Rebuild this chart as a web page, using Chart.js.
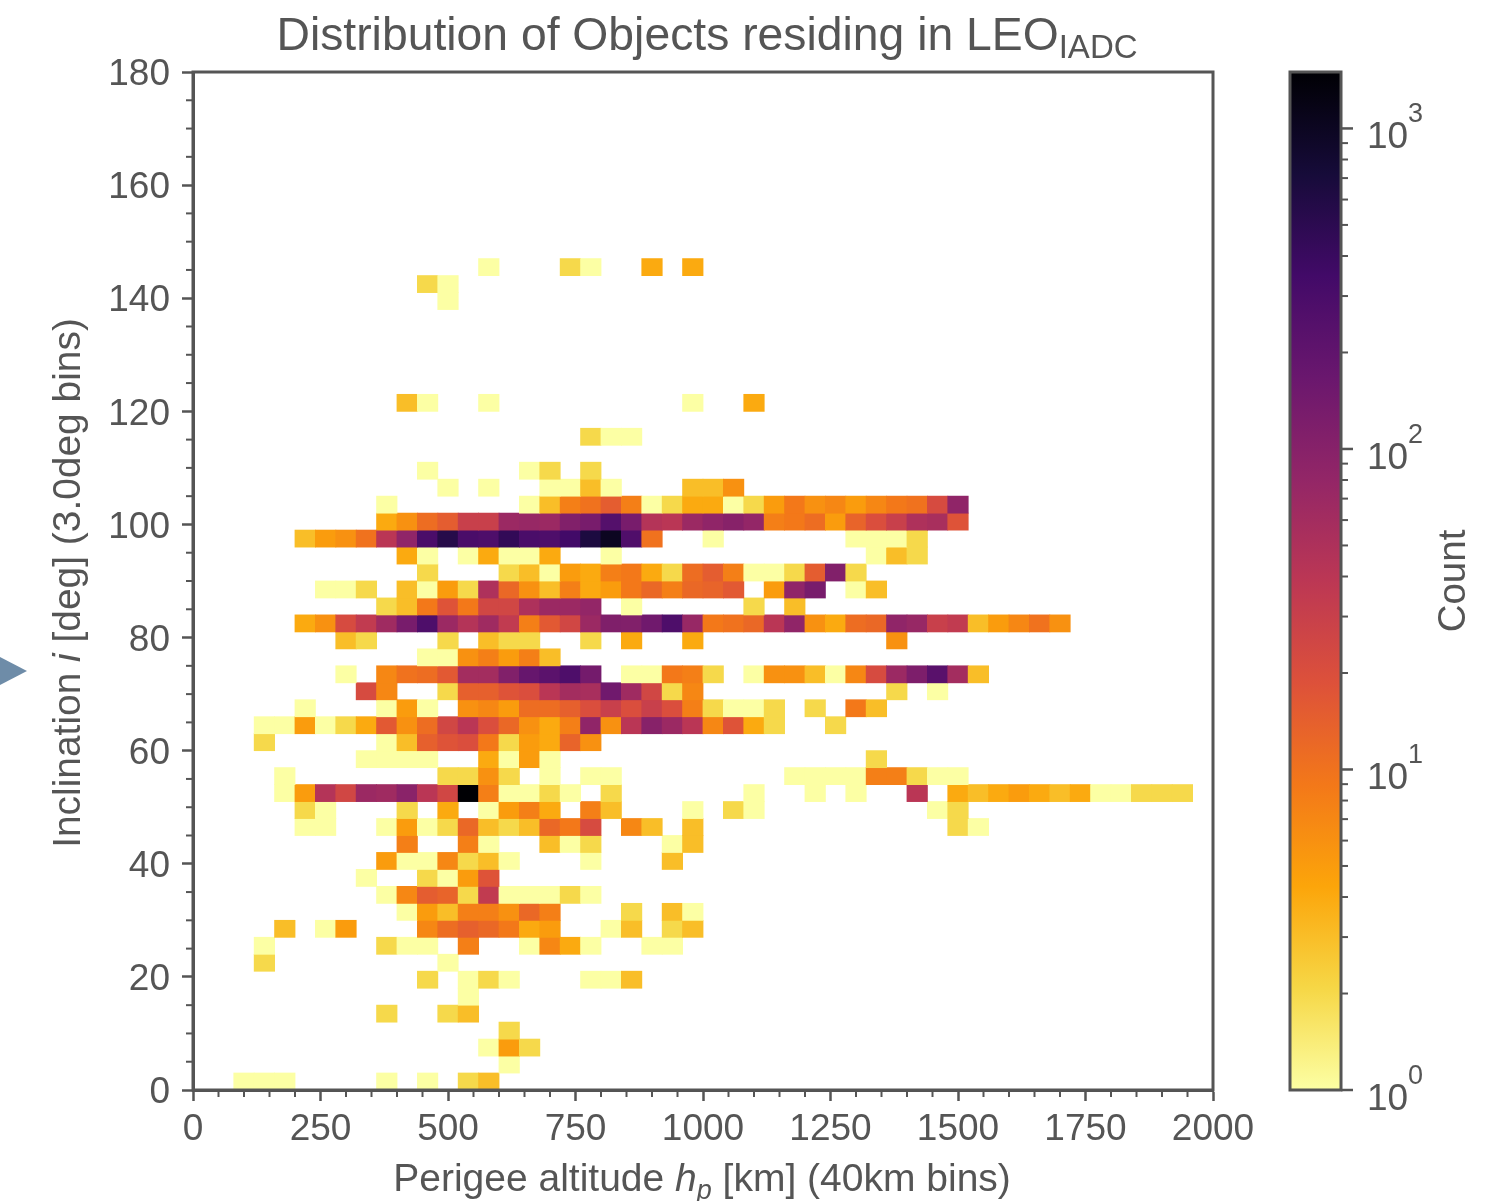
<!DOCTYPE html>
<html>
<head>
<meta charset="utf-8">
<title>Distribution of Objects residing in LEO</title>
<script src="https://cdn.jsdelivr.net/npm/chart.js@4/dist/chart.umd.min.js"></script>
<style>
    html, body { margin: 0; padding: 0; background: #ffffff; overflow: hidden; }
    canvas { position: absolute; top: 0; filter: blur(0.7px); }
    #heatChart { left: 0; }
    #barChart { left: 1270px; }
    #marker {
        position: absolute; left: 0; top: 657px; width: 27px; height: 28px;
        background: #6e8ca8; clip-path: polygon(0 0, 100% 50%, 0 100%);
    }
</style>
</head>
<body>
<canvas id="heatChart" width="1262" height="1201"></canvas>
<canvas id="barChart" width="216" height="1201"></canvas>
<div id="marker"></div>
<script>
// counts per 40km altitude bin, one list per 3deg inclination bin (named by lower edge)
const inc144 = [0,0,0,0,0, 0,0,0,0,0, 0,0,0,0,1, 0,0,0,2,1, 0,0,4,0,4];
const inc141 = [0,0,0,0,0, 0,0,0,0,0, 0,2,1];
const inc138 = [0,0,0,0,0, 0,0,0,0,0, 0,0,1];
const inc120 = [0,0,0,0,0, 0,0,0,0,0, 3,1,0,0,1, 0,0,0,0,0, 0,0,0,0,1, 0,0,4];
const inc114 = [0,0,0,0,0, 0,0,0,0,0, 0,0,0,0,0, 0,0,0,0,2, 1,1];
const inc108 = [0,0,0,0,0, 0,0,0,0,0, 0,1,0,0,0, 0,1,2,0,2];
const inc105 = [0,0,0,0,0, 0,0,0,0,0, 0,0,1,0,1, 0,0,1,1,3, 1,0,0,0,3, 3,6];
const inc102 = [0,0,0,0,0, 0,0,0,0,1, 0,0,0,0,0, 0,1,3,8,10, 15,8,1,2,4, 4,1,2,5,9, 6,7,5,7,9, 10,22,85];
const inc99 = [0,0,0,0,0, 0,0,0,0,4, 6,11,15,30,30, 70,75,70,110,130, 250,130,45,40,70, 85,100,80,8,9, 11,5,13,20,30, 50,55,18];
const inc96 = [0,0,0,0,0, 3,5,6,10,40, 85,300,550,300,280, 450,300,280,350,650, 1000,270,10,0,0, 1,0,0,0,0, 0,0,1,1,1, 2];
const inc93 = [0,0,0,0,0, 0,0,0,0,0, 4,1,0,1,4, 1,1,4,0,0, 1,0,0,0,0, 0,0,0,0,0, 0,0,0,1,3, 2];
const inc90 = [0,0,0,0,0, 0,0,0,0,0, 0,2,0,0,0, 2,3,1,5,4, 8,9,4,2,11, 15,8,1,1,2, 15,110,2];
const inc87 = [0,0,0,0,0, 0,1,1,2,0, 3,1,5,2,50, 12,6,3,8,4, 5,9,12,8,12, 13,16,0,5,85, 130,0,1,3];
const inc84 = [0,0,0,0,0, 0,0,0,0,2, 3,9,18,9,25, 25,50,70,70,80, 0,1,0,0,0, 0,0,2,0,3];
const inc81 = [0,0,0,0,0, 4,6,22,35,65, 130,280,70,45,65, 35,8,16,25,70, 115,110,150,280,75, 9,10,12,40,85, 6,4,11,12,85, 75,30,35,3,5, 7,10,6];
const inc78 = [0,0,0,0,0, 0,0,3,2,0, 0,0,2,0,3, 2,2,0,0,2, 0,4,0,0,4, 0,0,0,0,0, 0,0,0,0,6];
const inc75 = [0,0,0,0,0, 0,0,0,0,0, 0,1,1,6,8, 5,8,3];
const inc72 = [0,0,0,0,0, 0,0,1,0,7, 10,11,16,60,60, 110,180,220,280,140, 0,1,1,9,8, 2,0,1,6,6, 3,1,7,22,70, 120,230,60,3];
const inc69 = [0,0,0,0,0, 0,0,0,22,7, 0,0,2,14,14, 18,20,40,60,55, 150,65,25,2,7, 0,0,0,0,0, 0,0,0,0,2, 0,1];
const inc66 = [0,0,0,0,0, 1,0,0,0,1, 5,1,0,6,7, 5,11,11,14,20, 30,20,30,20,8, 2,1,1,2,0, 2,0,9,3];
const inc63 = [0,0,0,1,1, 5,1,2,4,16, 6,11,25,40,20, 12,6,4,8,85, 6,40,100,70,40, 7,18,4,2,0, 0,2];
const inc60 = [0,0,0,2,0, 0,0,0,0,1, 3,14,18,20,9, 2,5,4,13,6];
const inc57 = [0,0,0,0,0, 0,0,0,1,1, 1,1,0,0,4, 1,5,1,0,0, 0,0,0,0,0, 0,0,0,0,0, 0,0,0,2];
const inc54 = [0,0,0,0,1, 0,0,0,0,0, 0,0,2,2,6, 2,0,1,0,1, 1,0,0,0,0, 0,0,0,0,1, 1,1,1,8,8, 2,1,1];
const inc51 = [0,0,0,0,1, 5,45,25,70,65, 95,40,25,1500,8, 1,1,2,1,0, 2,0,0,0,0, 0,0,1,0,0, 1,0,1,0,0, 40,0,4,3,4, 5,4,3,4,1, 1,2,2,2];
const inc48 = [0,0,0,0,0, 2,1,0,0,0, 2,0,4,0,1, 5,8,4,0,8, 3,0,0,0,1, 0,2,1,0,0, 0,0,0,0,0, 0,1,2];
const inc45 = [0,0,0,0,0, 1,1,0,0,1, 5,1,2,12,3, 2,3,12,9,22, 0,7,3,0,3, 0,0,0,0,0, 0,0,0,0,0, 0,0,2,1];
const inc42 = [0,0,0,0,0, 0,0,0,0,0, 8,0,0,8,1, 0,0,3,1,2, 0,0,0,1,3];
const inc39 = [0,0,0,0,0, 0,0,0,0,5, 1,1,7,2,3, 1,0,0,0,1, 0,0,0,3];
const inc36 = [0,0,0,0,0, 0,0,0,1,0, 0,2,1,5,18];
const inc33 = [0,0,0,0,0, 0,0,0,0,1, 7,15,13,2,35, 1,1,1,2,1];
const inc30 = [0,0,0,0,0, 0,0,0,0,0, 1,5,3,8,8, 6,12,8,0,0, 0,2,0,3,1];
const inc27 = [0,0,0,0,3, 0,1,5,0,0, 0,7,11,14,12, 9,4,5,0,0, 1,3,0,2,3];
const inc24 = [0,0,0,1,0, 0,0,0,0,2, 1,1,0,8,0, 0,1,7,4,1, 0,0,1,1];
const inc21 = [0,0,0,2,0, 0,0,0,0,0, 0,0,1];
const inc18 = [0,0,0,0,0, 0,0,0,0,0, 0,2,0,1,2, 1,0,0,0,1, 1,3];
const inc15 = [0,0,0,0,0, 0,0,0,0,0, 0,0,0,1];
const inc12 = [0,0,0,0,0, 0,0,0,0,2, 0,0,2,3];
const inc9 = [0,0,0,0,0, 0,0,0,0,0, 0,0,0,0,0, 2];
const inc6 = [0,0,0,0,0, 0,0,0,0,0, 0,0,0,0,1, 5,2];
const inc3 = [0,0,0,0,0, 0,0,0,0,0, 0,0,0,0,0, 1];
const inc0 = [0,0,1,1,1, 0,0,0,0,1, 0,1,0,2,3];

const incRows = [
    [144, inc144], [141, inc141], [138, inc138], [120, inc120], [114, inc114], [108, inc108],
    [105, inc105], [102, inc102], [99, inc99], [96, inc96], [93, inc93], [90, inc90],
    [87, inc87], [84, inc84], [81, inc81], [78, inc78], [75, inc75], [72, inc72],
    [69, inc69], [66, inc66], [63, inc63], [60, inc60], [57, inc57], [54, inc54],
    [51, inc51], [48, inc48], [45, inc45], [42, inc42], [39, inc39], [36, inc36],
    [33, inc33], [30, inc30], [27, inc27], [24, inc24], [21, inc21], [18, inc18],
    [15, inc15], [12, inc12], [9, inc9], [6, inc6], [3, inc3], [0, inc0]
];

const altitudeBins = [];
for (let i = 0; i < 50; i++) {
    altitudeBins.push(String(i * 40));
}

const countMax = 1500;
const cbarTicks = [1, 10, 100, 1000];

// inferno colormap, listed from dark to light
const inferno = [
    [0, 0, 4], [22, 11, 57], [66, 10, 104], [106, 23, 110], [147, 38, 103], [188, 55, 84],
    [221, 81, 58], [243, 120, 25], [252, 165, 10], [246, 215, 70], [252, 255, 164]
];

const INK = '#555555';
const SANS = '"Liberation Sans", Arial, sans-serif';
const TICK_FONT = '37px ' + SANS;

function colorAt(t) {
    const pos = Math.min(Math.max(t, 0), 1) * (inferno.length - 1);
    const i = Math.min(Math.floor(pos), inferno.length - 2);
    const f = pos - i;
    const c = inferno[i].map((v, k) => Math.round(v + (inferno[i + 1][k] - v) * f));
    return `rgb(${c[0]}, ${c[1]}, ${c[2]})`;
}

function countColor(count) {
    return colorAt(1 - Math.log10(count) / Math.log10(countMax));
}

// text made of several runs (italic, subscript), centred on x
function drawRuns(ctx, runs, x, y) {
    ctx.textAlign = 'left';
    ctx.textBaseline = 'alphabetic';
    ctx.fillStyle = INK;
    let total = 0;
    runs.forEach(run => {
        ctx.font = run.font;
        total += ctx.measureText(run.text).width;
    });
    let cur = x - total / 2;
    runs.forEach(run => {
        ctx.font = run.font;
        ctx.fillText(run.text, cur, y + (run.dy || 0));
        cur += ctx.measureText(run.text).width;
    });
}

function tickLine(ctx, x1, y1, x2, y2, width) {
    ctx.lineWidth = width;
    ctx.beginPath();
    ctx.moveTo(x1, y1);
    ctx.lineTo(x2, y2);
    ctx.stroke();
}

const heatDecor = {
    id: 'heatDecor',
    afterDraw(chart) {
        const ctx = chart.ctx;
        const area = chart.chartArea;
        const xScale = chart.scales.xTicks;
        const yScale = chart.scales.y;
        ctx.save();
        ctx.strokeStyle = INK;
        ctx.lineWidth = 3;
        ctx.strokeRect(area.left, area.top, area.right - area.left, area.bottom - area.top);
        for (let v = 0; v <= 2000; v += 50) {
            if (v % 250 !== 0) {
                const px = xScale.getPixelForValue(v);
                tickLine(ctx, px, area.bottom, px, area.bottom + 7, 2);
            }
        }
        for (let v = 0; v <= 180; v += 5) {
            if (v % 20 !== 0) {
                const py = yScale.getPixelForValue(v);
                tickLine(ctx, area.left, py, area.left - 7, py, 2);
            }
        }
        drawRuns(ctx, [
            { text: 'Distribution of Objects residing in LEO', font: '46.3px ' + SANS },
            { text: 'IADC', font: '33px ' + SANS, dy: 8 }
        ], 707, 50);
        drawRuns(ctx, [
            { text: 'Perigee altitude ', font: '39px ' + SANS },
            { text: 'h', font: 'italic 39px ' + SANS },
            { text: 'p', font: 'italic 27px ' + SANS, dy: 8 },
            { text: ' [km] (40km bins)', font: '39px ' + SANS }
        ], 702, 1191);
        ctx.translate(80, 583);
        ctx.rotate(-Math.PI / 2);
        drawRuns(ctx, [
            { text: 'Inclination ', font: '38.9px ' + SANS },
            { text: 'i', font: 'italic 38.9px ' + SANS },
            { text: ' [deg] (3.0deg bins)', font: '38.9px ' + SANS }
        ], 0, 0);
        ctx.restore();
    }
};

const cbarDecor = {
    id: 'cbarDecor',
    afterDraw(chart) {
        const ctx = chart.ctx;
        const area = chart.chartArea;
        const yScale = chart.scales.y;
        ctx.save();
        ctx.strokeStyle = INK;
        ctx.lineWidth = 3;
        ctx.strokeRect(area.left, area.top, area.right - area.left, area.bottom - area.top);
        for (let d = 1; d <= 1000; d *= 10) {
            for (let m = 1; m <= 9; m++) {
                const v = d * m;
                if (v <= countMax) {
                    const py = yScale.getPixelForValue(v);
                    if (m === 1) {
                        tickLine(ctx, area.right, py, area.right + 12, py, 2.5);
                    } else {
                        tickLine(ctx, area.right, py, area.right + 7, py, 2);
                    }
                }
            }
        }
        ctx.fillStyle = INK;
        ctx.textAlign = 'left';
        ctx.textBaseline = 'alphabetic';
        cbarTicks.forEach(v => {
            const py = yScale.getPixelForValue(v);
            ctx.font = TICK_FONT;
            ctx.fillText('10', area.right + 26, py + 20);
            ctx.font = '27px ' + SANS;
            ctx.fillText(String(Math.round(Math.log10(v))), area.right + 67, py - 6);
        });
        ctx.translate(195, 581);
        ctx.rotate(-Math.PI / 2);
        drawRuns(ctx, [{ text: 'Count', font: '38.5px ' + SANS }], 0, 0);
        ctx.restore();
    }
};

function rowDataset(row) {
    const lower = row[0];
    const counts = row[1];
    return {
        data: altitudeBins.map((bin, i) => (counts[i] ? [lower, lower + 3] : null)),
        backgroundColor: altitudeBins.map((bin, i) => (counts[i] ? countColor(counts[i]) : 'rgba(0,0,0,0)')),
        borderWidth: 0,
        inflateAmount: 0.4,
        grouped: false,
        barPercentage: 1,
        categoryPercentage: 1,
        xAxisID: 'x',
        yAxisID: 'y'
    };
}

new Chart(document.getElementById('heatChart').getContext('2d'), {
    type: 'bar',
    data: {
        labels: altitudeBins,
        datasets: incRows.map(rowDataset)
    },
    options: {
        responsive: false,
        animation: false,
        layout: { padding: { top: 72, right: 49, left: 0, bottom: 0 } },
        plugins: { legend: { display: false }, tooltip: { enabled: false } },
        scales: {
            x: { type: 'category', display: false },
            xTicks: {
                type: 'linear',
                axis: 'x',
                position: 'bottom',
                offset: false,
                min: 0,
                max: 2000,
                afterFit: function(scale) { scale.height = 111; },
                border: { color: INK, width: 3 },
                grid: { offset: false, drawOnChartArea: false, color: INK, tickColor: INK, tickLength: 11, tickWidth: 2.5 },
                ticks: {
                    stepSize: 250,
                    color: INK,
                    font: { family: SANS, size: 37 },
                    maxRotation: 0,
                    padding: 7,
                    callback: function(value) { return String(value); }
                }
            },
            y: {
                type: 'linear',
                min: 0,
                max: 180,
                afterFit: function(scale) { scale.width = 193; },
                border: { color: INK, width: 3 },
                grid: { drawOnChartArea: false, color: INK, tickColor: INK, tickLength: 11, tickWidth: 2.5 },
                ticks: { stepSize: 20, color: INK, font: { family: SANS, size: 37 }, padding: 12, labelOffset: 3 }
            }
        }
    },
    plugins: [heatDecor]
});

new Chart(document.getElementById('barChart').getContext('2d'), {
    type: 'bar',
    data: {
        labels: ['Count'],
        datasets: [{
            data: [[1, countMax]],
            backgroundColor: function(context) {
                const area = context.chart.chartArea;
                if (!area) {
                    return INK;
                }
                const grad = context.chart.ctx.createLinearGradient(0, area.bottom, 0, area.top);
                for (let i = 0; i <= 10; i++) {
                    grad.addColorStop(i / 10, colorAt(1 - i / 10));
                }
                return grad;
            },
            borderWidth: 0,
            barPercentage: 1,
            categoryPercentage: 1
        }]
    },
    options: {
        responsive: false,
        animation: false,
        layout: { padding: { top: 72, right: 145, left: 20, bottom: 111 } },
        plugins: { legend: { display: false }, tooltip: { enabled: false } },
        scales: {
            x: { type: 'category', display: false },
            y: { type: 'logarithmic', display: false, min: 1, max: countMax }
        }
    },
    plugins: [cbarDecor]
});
</script>
</body>
</html>
